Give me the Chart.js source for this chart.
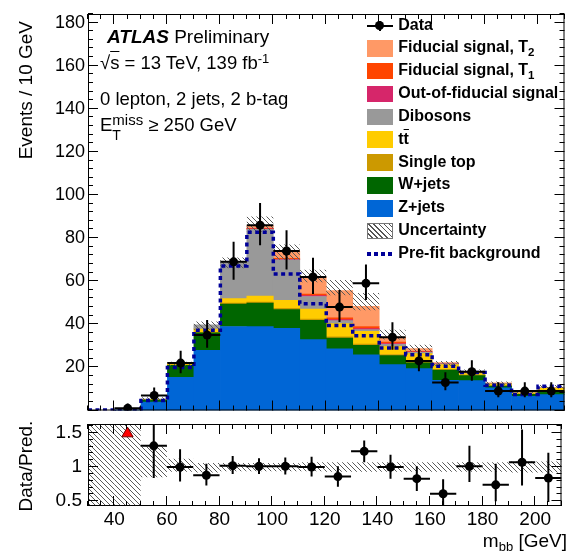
<!DOCTYPE html>
<html>
<head>
<meta charset="utf-8">
<script src="https://cdn.jsdelivr.net/npm/chart.js@4.4.1/dist/chart.umd.min.js"></script>
<style>
  html, body { margin: 0; padding: 0; background: #fff; }
  #fig { position: relative; width: 569px; height: 554px; overflow: hidden;
         font-family: "Liberation Sans", Arial, Helvetica, sans-serif; color: #000; }
  #fig canvas { position: absolute; left: 0; }
  #main { top: 0; }
  #ratio { top: 415px; }
  .txt { position: absolute; white-space: nowrap; }
  .up { position: relative; top: -0.45em; font-size: 0.7em; }
  .dn { position: relative; top: 0.3em; font-size: 0.72em; }
  .bar { text-decoration: overline; }
  .ytitle { position: absolute; width: 300px; font-size: 19px; line-height: 19px; white-space: nowrap;
            transform-origin: 0 0; transform: rotate(-90deg); }
  #legend { position: absolute; left: 366.7px; top: 16.5px; }
  #legend .row { position: relative; height: 22.85px; width: 200px; }
  #legend .sw { position: absolute; left: 0; top: 0.7px; width: 26px; height: 16.6px; }
  #legend .lab { position: absolute; left: 31.6px; top: -1px; font-weight: bold; font-size: 16px;
                 line-height: 18px; white-space: nowrap; }
</style>
</head>
<body>
<div id="fig">
  <canvas id="main" width="569" height="415"></canvas>
  <canvas id="ratio" width="569" height="139"></canvas>

  <div class="txt" style="left:107px; top:27.2px; font-size:19px; line-height:19px;"><b><i>ATLAS</i></b> Preliminary</div>
  <div class="txt" style="left:100px; top:54.3px; font-size:18.5px; line-height:18.5px;">√<span class="bar">s</span> = 13 TeV, 139 fb<span class="up">-1</span></div>
  <div class="txt" style="left:100px; top:90.3px; font-size:18.5px; line-height:18.5px;">0 lepton, 2 jets, 2 b-tag</div>
  <div class="txt" style="left:100px; top:116px; font-size:18.5px; line-height:18.5px;">E<span style="position:relative; font-size:15px;"><span style="position:relative; top:-6.5px;">miss</span><span style="position:absolute; left:0; top:9px; font-size:14px;">T</span></span> ≥ 250 GeV</div>

  <div id="legend">
    <div class="row">
      <div style="position:absolute; left:0; top:8px; width:26px; height:2px; background:#000;"></div>
      <div style="position:absolute; left:12px; top:4px; width:2px; height:10px; background:#000;"></div>
      <div style="position:absolute; left:8.5px; top:4.5px; width:9px; height:9px; border-radius:50%; background:#000;"></div>
      <div class="lab">Data</div>
    </div>
    <div class="row"><div class="sw" style="background:#ff9966;"></div><div class="lab">Fiducial signal, T<span class="dn">2</span></div></div>
    <div class="row"><div class="sw" style="background:#ff4500;"></div><div class="lab">Fiducial signal, T<span class="dn">1</span></div></div>
    <div class="row"><div class="sw" style="background:#d6266a;"></div><div class="lab">Out-of-fiducial signal</div></div>
    <div class="row"><div class="sw" style="background:#999999;"></div><div class="lab">Dibosons</div></div>
    <div class="row"><div class="sw" style="background:#ffcc00;"></div><div class="lab">t<span class="bar">t</span></div></div>
    <div class="row"><div class="sw" style="background:#cc9900;"></div><div class="lab">Single top</div></div>
    <div class="row"><div class="sw" style="background:#006600;"></div><div class="lab">W+jets</div></div>
    <div class="row"><div class="sw" style="background:#0066d6;"></div><div class="lab">Z+jets</div></div>
    <div class="row"><div class="sw" style="box-sizing:border-box; border:1px solid #777; background:repeating-linear-gradient(45deg, #fff 0 2.6px, #555 2.6px 3.6px);"></div><div class="lab">Uncertainty</div></div>
    <div class="row">
      <div style="position:absolute; left:0; top:7.3px; width:25px; height:3.6px; background:repeating-linear-gradient(90deg, #000099 0 4px, transparent 4px 7px);"></div>
      <div class="lab">Pre-fit background</div>
    </div>
  </div>

  <div class="ytitle" style="left:16.2px; top:321px; text-align:right;">Events / 10 GeV</div>
  <div class="ytitle" style="left:16.2px; top:616px; text-align:center;">Data/Pred.</div>
  <div class="txt" style="right:2px; top:530.9px; font-size:19px; line-height:19px;">m<span class="dn" style="font-size:13px;">bb</span> [GeV]</div>
</div>

<script>
// m_bb binning
const binEdges   = [30, 40, 50, 60, 70, 80, 90, 100, 110, 120, 130, 140, 150, 160, 170, 180, 190, 200, 210];
const binCenters = [35, 45, 55, 65, 75, 85, 95, 105, 115, 125, 135, 145, 155, 165, 175, 185, 195, 205];

// observed events and their errors
const dataCounts  = [null, 1, 7, 22, 35, 69, 86, 74, 62, 48, 59, 34, 23, 13, 18, 9, 9, 9];
const dataErrUp   = [0, 2.3, 3.7, 5.7, 7.0, 9.3, 10.3, 9.6, 8.9, 7.9, 8.7, 6.9, 5.8, 4.7, 5.3, 4.1, 4.1, 4.1];
const dataErrDown = [0, 0.8, 2.6, 4.7, 5.9, 8.3, 9.3, 8.6, 7.9, 6.9, 7.7, 5.8, 4.8, 3.6, 4.2, 2.9, 2.9, 2.9];

// post-fit stack, bottom to top
const zJets     = [0, 0.3, 3.9, 15.4, 27.9, 39.0, 38.9, 38.1, 32.9, 28.6, 25.8, 21.3, 19.4, 14.0, 13.9, 10.5, 6.6, 7.4];
const wJets     = [0, 0, 0.9, 5.6, 8.1, 10.4, 10.9, 8.7, 8.9, 5.0, 4.4, 4.2, 2.7, 4.7, 2.3, 0.8, 0.9, 1.5];
const singleTop = [0, 0, 0.1, 0.2, 0.3, 0.4, 0.5, 0.6, 0.6, 0.6, 0.6, 0.5, 0.5, 0.3, 0.2, 0.2, 0.1, 0.2];
const ttbar     = [0, 0, 0.2, 0.6, 1.5, 2.1, 2.8, 3.7, 4.7, 6.1, 5.9, 3.8, 3.8, 2.3, 0.7, 0.8, 0.6, 1.2];
const dibosons  = [0, 0, 0.2, 0.5, 2.0, 17.0, 31.0, 18.8, 5.8, 1.4, 0.8, 0.9, 0.6, 0.4, 0.3, 0.2, 0.1, 0.2];
const outOfFid  = [0, 0, 0, 0, 0, 0, 0.2, 0.3, 0.4, 0.5, 0.5, 0.4, 0.2, 0.1, 0.1, 0, 0, 0];
const fidT1     = [0, 0, 0, 0, 0, 0, 0.2, 0.4, 0.7, 0.8, 1.0, 0.7, 0.3, 0.1, 0.1, 0.1, 0, 0];
const fidT2     = [0, 0, 0, 0, 0, 0, 1.3, 3.4, 7.9, 12.7, 9.3, 2.3, 1.2, 0.3, 0.3, 0.2, 0.2, 0.3];

// uncertainty band on the prediction
const uncLow  = [0, 0, 4.8, 20.8, 37.5, 66.0, 83.0, 70.0, 59.5, 53.5, 46.5, 33.0, 27.3, 20.8, 17.0, 12.0, 8.0, 10.2];
const uncHigh = [0, 0.5, 6.2, 22.6, 41.3, 71.0, 90.0, 77.0, 65.3, 60.6, 54.5, 37.5, 30.5, 23.0, 19.0, 13.5, 9.2, 11.8];

// background before the fit
const preFit = [0.2, 0.3, 4.6, 20.0, 37.2, 67.1, 82.7, 63.4, 49.5, 39.4, 34.7, 29.0, 25.9, 20.5, 17.6, 11.7, 7.4, 11.2];

// data / prediction
const ratioValues   = [null, null, 1.31, 1.00, 0.88, 1.02, 1.01, 1.01, 1.00, 0.86, 1.23, 1.00, 0.83, 0.61, 1.01, 0.74, 1.07, 0.84];
const ratioErrUp    = [0, 0, 0.40, 0.26, 0.17, 0.14, 0.12, 0.13, 0.15, 0.15, 0.16, 0.18, 0.18, 0.21, 0.30, 0.31, 0.48, 0.37];
const ratioErrDown  = [0, 0, 0.47, 0.21, 0.15, 0.12, 0.11, 0.12, 0.14, 0.15, 0.16, 0.17, 0.18, 0.20, 0.23, 0.24, 0.34, 0.35];
const ratioBandLow  = [0, 0, 0.85, 0.93, 0.92, 0.94, 0.94, 0.94, 0.94, 0.93, 0.93, 0.93, 0.93, 0.93, 0.93, 0.93, 0.92, 0.92];
const ratioBandHigh = [2, 2, 1.30, 1.12, 1.06, 1.06, 1.06, 1.06, 1.07, 1.07, 1.07, 1.07, 1.07, 1.07, 1.07, 1.07, 1.08, 1.08];
// ratio points above the panel
const offscaleX = [45];
const offscaleY = [1.49];

// axis labels
const mainYTicks  = [20, 40, 60, 80, 100, 120, 140, 160, 180];
const ratioYTicks = [0.5, 1, 1.5];
const xTicks      = [40, 60, 80, 100, 120, 140, 160, 180, 200];

Chart.defaults.font.family = '"Liberation Sans", Arial, Helvetica, sans-serif';
Chart.defaults.color = '#000';

// diagonal hatching used for the uncertainty bands
function makeHatch() {
  const c = document.createElement('canvas');
  c.width = 5; c.height = 5;
  const g = c.getContext('2d');
  g.strokeStyle = '#5a5a5a';
  g.lineWidth = 1;
  g.beginPath();
  g.moveTo(-1, -1); g.lineTo(6, 6);
  g.moveTo(-1, 4); g.lineTo(2, 7);
  g.moveTo(4, -1); g.lineTo(7, 2);
  g.stroke();
  return g.createPattern(c, 'repeat');
}
const hatch = makeHatch();

const hist  = (vals) => binCenters.map((c, i) => ({ x: c, y: vals[i] > 0 ? vals[i] : null }));
const band  = (lo, hi) => binCenters.map((c, i) => ({ x: c, y: [lo[i], hi[i]] }));
const steps = (vals) => binEdges.map((e, i) => ({ x: e, y: vals[Math.min(i, vals.length - 1)] }));
const points = (vals) => binCenters.map((c, i) => ({ x: c, y: vals[i] }));

// keep the plot area exactly where the layout puts it
const noPad = (s) => { s.paddingTop = 0; s.paddingBottom = 0; s.paddingLeft = 0; s.paddingRight = 0; };

// ROOT-like frame with inward ticks on all four sides
const rootFrame = {
  id: 'rootFrame',
  afterDraw(chart, args, o) {
    const { ctx, chartArea: a, scales } = chart;
    const xs = scales.x, ys = scales.y;
    const isMajor = (v, m) => Math.abs(v / m - Math.round(v / m)) < 1e-6;
    ctx.save();
    ctx.strokeStyle = '#000';
    ctx.lineWidth = 1;
    ctx.beginPath();
    for (let n = Math.ceil(xs.min / o.xMinor - 1e-9); n * o.xMinor <= xs.max + 1e-9; n++) {
      const v = n * o.xMinor;
      const px = Math.round(xs.getPixelForValue(v)) - 0.5;
      const len = isMajor(v, o.xMajor) ? 10 : 5;
      ctx.moveTo(px, a.bottom); ctx.lineTo(px, a.bottom - len);
      ctx.moveTo(px, a.top); ctx.lineTo(px, a.top + len);
    }
    for (let n = Math.ceil(ys.min / o.yMinor - 1e-9); n * o.yMinor <= ys.max + 1e-9; n++) {
      const v = n * o.yMinor;
      const py = Math.round(ys.getPixelForValue(v)) - 0.5;
      const len = isMajor(v, o.yMajor) ? 10 : 5;
      ctx.moveTo(a.left, py); ctx.lineTo(a.left + len, py);
      ctx.moveTo(a.right, py); ctx.lineTo(a.right - len, py);
    }
    ctx.stroke();
    ctx.strokeRect(a.left + 0.5, a.top + 0.5, a.right - a.left - 1, a.bottom - a.top - 1);
    ctx.restore();
  }
};

// horizontal bin-width bars and vertical error bars for the data points
const errorBars = {
  id: 'errorBars',
  afterDatasetsDraw(chart, args, o) {
    const { ctx, chartArea: a, scales: { x, y } } = chart;
    ctx.save();
    ctx.beginPath();
    ctx.rect(a.left, a.top, a.right - a.left, a.bottom - a.top);
    ctx.clip();
    ctx.strokeStyle = '#000';
    ctx.lineWidth = 2;
    ctx.beginPath();
    o.values.forEach((v, i) => {
      if (v === null) return;
      const cx = x.getPixelForValue(binCenters[i]);
      const py = y.getPixelForValue(v);
      ctx.moveTo(x.getPixelForValue(binEdges[i]), py);
      ctx.lineTo(x.getPixelForValue(binEdges[i + 1]), py);
      ctx.moveTo(cx, y.getPixelForValue(v + o.up[i]));
      ctx.lineTo(cx, y.getPixelForValue(v - o.down[i]));
    });
    ctx.stroke();
    ctx.restore();
  }
};

const barBase = { type: 'bar', grouped: false, barPercentage: 1, categoryPercentage: 1, borderWidth: 0 };
const dataStyle = { type: 'line', showLine: false, pointRadius: 4.5, pointBackgroundColor: '#000', pointBorderWidth: 0 };

const xScale = (showLabels) => ({
  type: 'linear', min: 30, max: 210, offset: false,
  display: showLabels,
  grid: { display: false, drawTicks: false, offset: false },
  border: { display: false },
  afterBuildTicks: (s) => { s.ticks = xTicks.map(v => ({ value: v })); },
  ticks: { autoSkip: false, maxRotation: 0, padding: 2, font: { size: 19 }, callback: (v) => String(v) },
  afterFit: (s) => { s.height = showLabels ? 48 : 0; noPad(s); }
});

new Chart(document.getElementById('main'), {
  type: 'bar',
  data: {
    datasets: [
      { ...dataStyle, label: 'Data', stack: 'data', data: hist(dataCounts) },
      { type: 'line', label: 'Pre-fit background', stack: 'prefit', data: steps(preFit), stepped: 'before',
        borderColor: '#000099', borderWidth: 3.5, borderDash: [4, 3.5], pointRadius: 0, fill: false },
      { ...barBase, label: 'Uncertainty', stack: 'unc', data: band(uncLow, uncHigh), backgroundColor: hatch, inflateAmount: 0 },
      { ...barBase, label: 'Z+jets', stack: 'mc', data: hist(zJets), backgroundColor: '#0066d6' },
      { ...barBase, label: 'W+jets', stack: 'mc', data: hist(wJets), backgroundColor: '#006600' },
      { ...barBase, label: 'Single top', stack: 'mc', data: hist(singleTop), backgroundColor: '#cc9900' },
      { ...barBase, label: 'ttbar', stack: 'mc', data: hist(ttbar), backgroundColor: '#ffcc00' },
      { ...barBase, label: 'Dibosons', stack: 'mc', data: hist(dibosons), backgroundColor: '#999999' },
      { ...barBase, label: 'Out-of-fiducial signal', stack: 'mc', data: hist(outOfFid), backgroundColor: '#d6266a' },
      { ...barBase, label: 'Fiducial signal, T1', stack: 'mc', data: hist(fidT1), backgroundColor: '#ff4500' },
      { ...barBase, label: 'Fiducial signal, T2', stack: 'mc', data: hist(fidT2), backgroundColor: '#ff9966' }
    ]
  },
  options: {
    responsive: false,
    animation: false,
    events: [],
    layout: { padding: { top: 14, right: 0, bottom: 4, left: 0 } },
    scales: {
      x: xScale(false),
      y: {
        type: 'linear', min: 0, max: 184, stacked: true,
        grid: { display: false, drawTicks: false },
        border: { display: false },
        afterBuildTicks: (s) => { s.ticks = mainYTicks.map(v => ({ value: v })); },
        ticks: { padding: 3, font: { size: 18 }, callback: (v) => String(v) },
        afterFit: (s) => { s.width = 88; noPad(s); }
      }
    },
    plugins: {
      legend: { display: false },
      tooltip: { enabled: false },
      rootFrame: { xMinor: 5, xMajor: 20, yMinor: 4, yMajor: 20 },
      errorBars: { values: dataCounts, up: dataErrUp, down: dataErrDown }
    }
  },
  plugins: [rootFrame, errorBars]
});

new Chart(document.getElementById('ratio'), {
  type: 'bar',
  data: {
    datasets: [
      { ...dataStyle, label: 'Data/Pred.', stack: 'ratio', data: points(ratioValues) },
      { type: 'line', label: 'off scale', stack: 'arrow', showLine: false,
        data: offscaleX.map((x, i) => ({ x: x, y: offscaleY[i] })),
        pointStyle: 'triangle', pointRadius: 6.5, pointBackgroundColor: '#ff0000',
        pointBorderColor: '#700000', pointBorderWidth: 1 },
      { ...barBase, label: 'Uncertainty', stack: 'band', data: band(ratioBandLow, ratioBandHigh),
        backgroundColor: hatch, inflateAmount: 0 }
    ]
  },
  options: {
    responsive: false,
    animation: false,
    events: [],
    layout: { padding: { top: 9, right: 0, bottom: 0, left: 0 } },
    scales: {
      x: xScale(true),
      y: {
        type: 'linear', min: 0.43, max: 1.63,
        grid: { display: false, drawTicks: false },
        border: { display: false },
        afterBuildTicks: (s) => { s.ticks = ratioYTicks.map(v => ({ value: v })); },
        ticks: { padding: 6, font: { size: 19 }, callback: (v) => String(v) },
        afterFit: (s) => { s.width = 88; noPad(s); }
      }
    },
    plugins: {
      legend: { display: false },
      tooltip: { enabled: false },
      rootFrame: { xMinor: 5, xMajor: 20, yMinor: 0.1, yMajor: 0.5 },
      errorBars: { values: ratioValues, up: ratioErrUp, down: ratioErrDown }
    }
  },
  plugins: [rootFrame, errorBars]
});
</script>
</body>
</html>
